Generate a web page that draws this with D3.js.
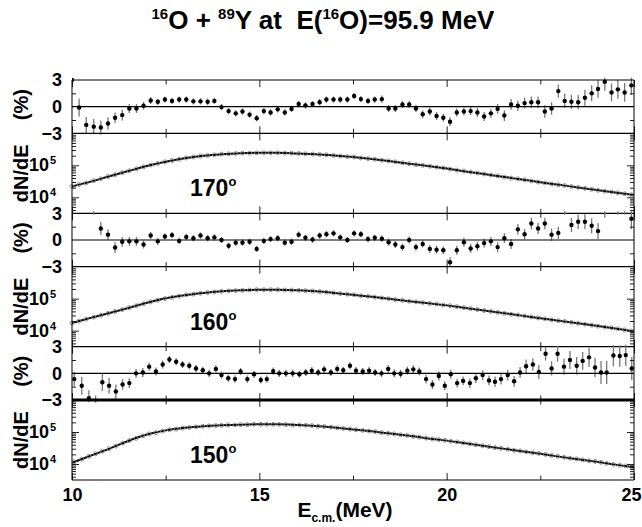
<!DOCTYPE html>
<html>
<head>
<meta charset="utf-8">
<script src="https://cdn.jsdelivr.net/npm/d3@7"></script>
<style>
  body { margin: 0; background: #fff; }
  svg { display: block; }
  text { white-space: pre; }
</style>
</head>
<body>
<svg id="chart" width="642" height="527"></svg>
<script>
/*
 * 16O + 89Y spectra (170, 160, 150 deg) with ratio panels
 */

// energy grid of the 170 / 160 deg spectra (MeV)
const energies = [
  10.00, 10.19, 10.38, 10.58, 10.77, 10.96, 11.15, 11.34, 11.53, 11.72,
  11.91, 12.10, 12.29, 12.48, 12.67, 12.86, 13.05, 13.24, 13.43, 13.62,
  13.80, 13.99, 14.18, 14.37, 14.55, 14.74, 14.93, 15.12, 15.30, 15.49,
  15.68, 15.86, 16.05, 16.23, 16.42, 16.61, 16.79, 16.98, 17.16, 17.35,
  17.53, 17.71, 17.90, 18.08, 18.27, 18.45, 18.63, 18.82, 19.00, 19.18,
  19.36, 19.55, 19.73, 19.91, 20.09, 20.27, 20.46, 20.64, 20.82, 21.00,
  21.18, 21.36, 21.54, 21.72, 21.90, 22.08, 22.26, 22.44, 22.62, 22.80,
  22.98, 23.15, 23.33, 23.51, 23.69, 23.87, 24.04, 24.22, 24.40, 24.57,
  24.75, 24.93
];

// energy grid of the 150 deg spectrum (MeV)
const energies150 = [
  10.06, 10.26, 10.45, 10.63, 10.81, 10.99, 11.17, 11.35, 11.53, 11.71,
  11.89, 12.06, 12.24, 12.42, 12.60, 12.78, 12.95, 13.13, 13.31, 13.49,
  13.66, 13.84, 13.99, 14.17, 14.35, 14.50, 14.68, 14.86, 15.04, 15.20,
  15.37, 15.53, 15.71, 15.89, 16.07, 16.24, 16.40, 16.57, 16.73, 16.91,
  17.08, 17.24, 17.42, 17.58, 17.76, 17.93, 18.09, 18.26, 18.44, 18.60,
  18.77, 18.95, 19.11, 19.27, 19.45, 19.62, 19.79, 19.95, 20.11, 20.28,
  20.44, 20.62, 20.78, 20.96, 21.13, 21.29, 21.45, 21.63, 21.80, 21.96,
  22.12, 22.30, 22.46, 22.64, 22.80, 22.96, 23.13, 23.29, 23.47, 23.63,
  23.80, 23.96, 24.12, 24.27, 24.45, 24.62, 24.78, 24.94
];

// energies of the fitted curves (MeV)
const fitEnergies = [
  10, 10.5, 11, 11.5, 12, 12.5, 13, 13.5, 14, 14.5, 15, 15.5, 16, 16.5, 17,
  17.5, 18, 18.5, 19, 19.5, 20, 20.5, 21, 21.5, 22, 22.5, 23, 23.5, 24, 24.5, 25
];

// log10(dN/dE) of the fitted curves
const lgFit170 = [4.34, 4.49, 4.66, 4.82, 4.98, 5.11, 5.22, 5.30, 5.35, 5.38, 5.39,
  5.39, 5.37, 5.35, 5.31, 5.26, 5.20, 5.13, 5.05, 4.98, 4.90, 4.81, 4.73, 4.64,
  4.56, 4.47, 4.39, 4.31, 4.23, 4.15, 4.07];
const lgFit160 = [4.24, 4.40, 4.55, 4.71, 4.87, 5.01, 5.11, 5.18, 5.23, 5.26, 5.28,
  5.28, 5.26, 5.23, 5.18, 5.12, 5.06, 4.99, 4.92, 4.86, 4.79, 4.71, 4.63, 4.55,
  4.47, 4.39, 4.31, 4.23, 4.15, 4.07, 3.98];
const lgFit150 = [4.04, 4.26, 4.48, 4.72, 4.92, 5.05, 5.13, 5.18, 5.21, 5.23, 5.24,
  5.24, 5.22, 5.19, 5.14, 5.08, 5.02, 4.95, 4.88, 4.80, 4.73, 4.65, 4.56, 4.48,
  4.40, 4.32, 4.23, 4.15, 4.07, 3.98, 3.90];

// log10(dN/dE) of the measured spectra
const lgSpec170 = [
  4.34, 4.40, 4.45, 4.52, 4.58, 4.65, 4.71, 4.77, 4.83, 4.89,
  4.95, 5.01, 5.06, 5.11, 5.15, 5.19, 5.23, 5.26, 5.29, 5.31,
  5.33, 5.35, 5.36, 5.37, 5.38, 5.38, 5.39, 5.39, 5.39, 5.39,
  5.38, 5.38, 5.37, 5.36, 5.35, 5.34, 5.33, 5.31, 5.29, 5.27,
  5.26, 5.23, 5.21, 5.19, 5.16, 5.14, 5.11, 5.08, 5.05, 5.02,
  5.00, 4.97, 4.94, 4.92, 4.88, 4.85, 4.82, 4.79, 4.76, 4.73,
  4.70, 4.67, 4.63, 4.60, 4.58, 4.55, 4.51, 4.48, 4.45, 4.42,
  4.39, 4.37, 4.34, 4.31, 4.28, 4.25, 4.22, 4.19, 4.17, 4.14,
  4.11, 4.08
];
const lgSpec160 = [
  4.24, 4.30, 4.36, 4.42, 4.48, 4.54, 4.60, 4.66, 4.72, 4.78,
  4.84, 4.90, 4.95, 5.00, 5.04, 5.08, 5.12, 5.14, 5.17, 5.19,
  5.21, 5.23, 5.24, 5.25, 5.26, 5.27, 5.28, 5.28, 5.28, 5.28,
  5.27, 5.27, 5.26, 5.25, 5.24, 5.22, 5.20, 5.18, 5.16, 5.14,
  5.12, 5.09, 5.07, 5.05, 5.02, 5.00, 4.97, 4.95, 4.92, 4.90,
  4.88, 4.85, 4.83, 4.80, 4.78, 4.75, 4.72, 4.69, 4.66, 4.63,
  4.60, 4.57, 4.54, 4.51, 4.49, 4.46, 4.43, 4.40, 4.37, 4.34,
  4.31, 4.29, 4.26, 4.23, 4.20, 4.17, 4.14, 4.11, 4.09, 4.06,
  4.02, 3.99
];
const lgSpec150 = [
  4.07, 4.15, 4.24, 4.32, 4.40, 4.48, 4.56, 4.65, 4.73, 4.80,
  4.88, 4.94, 4.98, 5.03, 5.07, 5.09, 5.12, 5.14, 5.16, 5.18,
  5.19, 5.20, 5.21, 5.22, 5.22, 5.23, 5.23, 5.24, 5.24, 5.24,
  5.24, 5.24, 5.23, 5.22, 5.22, 5.21, 5.20, 5.18, 5.17, 5.15,
  5.13, 5.11, 5.09, 5.07, 5.05, 5.03, 5.01, 4.98, 4.96, 4.94,
  4.91, 4.89, 4.86, 4.84, 4.81, 4.78, 4.76, 4.74, 4.71, 4.69,
  4.66, 4.63, 4.60, 4.57, 4.54, 4.51, 4.49, 4.46, 4.43, 4.41,
  4.38, 4.35, 4.33, 4.30, 4.27, 4.24, 4.21, 4.18, 4.16, 4.13,
  4.10, 4.08, 4.05, 4.02, 3.99, 3.96, 3.94, 3.91
];

// (data - fit) / fit in %, with errors
const ratio170 = [
  3.0, -0.1, -2.05, -2.25, -2.35, -1.9, -1.25, -0.95, -0.2, -0.2,
  0.1, 0.7, 0.55, 0.8, 0.65, 0.8, 0.8, 0.6, 0.6, 0.55,
  0.65, -0.05, -0.5, -0.75, -0.55, -0.9, -1.3, -0.5, -0.65, -0.3,
  -0.65, -0.25, 0.3, 0.15, 0.3, 0.5, 0.8, 0.8, 0.8, 0.8,
  1.2, 0.85, 0.65, 0.8, 0.85, -0.2, -0.2, 0.25, 0.25, -0.2,
  -0.85, -0.55, -1.05, -1.25, -1.7, -0.65, -0.55, -0.5, -0.65, -1.1,
  -0.75, -0.25, -1.0, 0.25, 0.1, 0.4, 0.5, 0.5, -0.55, -0.2,
  1.75, 0.65, 0.55, 0.5, 1.0, 1.5, 2.0, 2.8, 1.6, 1.95,
  1.6, 2.4
];
const err170 = [
  0.3, 1.0, 0.9, 0.85, 0.8, 0.7, 0.6, 0.6, 0.5, 0.5,
  0.45, 0.4, 0.35, 0.35, 0.35, 0.35, 0.35, 0.35, 0.35, 0.35,
  0.35, 0.35, 0.35, 0.35, 0.35, 0.35, 0.35, 0.35, 0.35, 0.35,
  0.35, 0.35, 0.35, 0.35, 0.35, 0.35, 0.35, 0.35, 0.35, 0.35,
  0.35, 0.35, 0.35, 0.35, 0.4, 0.4, 0.4, 0.4, 0.4, 0.4,
  0.45, 0.45, 0.45, 0.45, 0.5, 0.45, 0.45, 0.45, 0.5, 0.5,
  0.5, 0.55, 0.6, 0.6, 0.6, 0.6, 0.65, 0.65, 0.7, 0.7,
  0.75, 0.8, 0.8, 0.8, 0.9, 0.9, 1.0, 1.0, 1.0, 1.05,
  1.05, 1.1
];
const ratio160 = [
  null, null, null, 3.7, 1.3, 0.6, -0.85, -0.2, -0.15, -0.15,
  -0.5, 0.5, -0.15, 0.4, 0.55, -0.1, 0.35, 0.2, 0.5, 0.2,
  0.3, 0.0, -0.65, -0.3, -0.3, -0.2, -1.0, -0.1, 0.1, 0.2,
  -0.3, -0.2, 0.6, 0.25, 0.05, 0.5, 0.65, 0.75, 0.3, 0.0,
  0.75, 0.65, 0.1, 0.25, 0.15, -0.25, -0.5, -0.8, 0.0, -0.8,
  -0.45, -1.0, -1.1, -1.15, -2.5, -1.15, -0.25, -0.95, -0.7, -0.35,
  -0.15, -0.8, 0.2, -0.45, 1.2, 0.65, 1.85, 1.3, 1.85, 0.6,
  0.8, 3.8, 1.7, 2.05, 2.05, 1.6, 1.0, 3.7, null, 3.7,
  3.7, 2.4
];
const err160 = [
  null, null, null, 0.85, 0.75, 0.6, 0.6, 0.55, 0.5, 0.5,
  0.45, 0.4, 0.4, 0.35, 0.35, 0.35, 0.35, 0.35, 0.35, 0.35,
  0.35, 0.35, 0.35, 0.35, 0.35, 0.35, 0.35, 0.35, 0.35, 0.35,
  0.35, 0.35, 0.35, 0.35, 0.35, 0.35, 0.35, 0.35, 0.35, 0.35,
  0.35, 0.35, 0.35, 0.35, 0.35, 0.4, 0.4, 0.4, 0.4, 0.4,
  0.4, 0.45, 0.45, 0.45, 0.55, 0.5, 0.5, 0.5, 0.5, 0.5,
  0.5, 0.55, 0.55, 0.55, 0.6, 0.6, 0.65, 0.65, 0.65, 0.7,
  0.7, 0.95, 0.8, 0.8, 0.85, 0.85, 0.9, 1.2, null, 0.85,
  0.85, 1.2
];
const ratio150 = [
  -0.65, -1.4, -2.8, -3.5, -1.0, -1.4, -2.05, -1.25, -1.1, 0.0,
  0.1, 0.75, 0.2, 1.0, 1.55, 1.3, 1.0, 0.85, 0.55, 0.35,
  0.0, 0.5, -0.2, -0.55, -0.65, 0.2, -0.65, -0.1, -0.75, -0.65,
  0.25, 0.0, 0.0, 0.0, -0.1, 0.1, 0.3, 0.1, 0.45, 0.1,
  0.5, 0.35, 0.85, 0.3, 0.2, 0.3, 0.1, 0.0, 0.5, 0.0,
  -0.05, 0.3, 0.45, 0.2, -0.65, -1.25, -0.3, -1.4, -0.1, -1.1,
  -0.85, -1.1, -0.55, -0.2, -0.8, -0.95, -0.65, -0.2, -0.9, 0.1,
  0.8, 1.0, 0.15, 2.2, 0.55, 2.2, 0.75, 1.5, 0.85, 1.4,
  1.8, 0.65, 0.1, 0.1, 2.0, 1.95, 2.05, 0.55
];
const err150 = [
  0.8, 1.0, 0.9, 1.0, 1.0, 0.9, 0.8, 0.6, 0.55, 0.5,
  0.5, 0.45, 0.45, 0.45, 0.4, 0.4, 0.4, 0.4, 0.4, 0.4,
  0.4, 0.4, 0.4, 0.4, 0.4, 0.4, 0.4, 0.4, 0.4, 0.4,
  0.4, 0.4, 0.4, 0.4, 0.4, 0.4, 0.4, 0.4, 0.4, 0.4,
  0.4, 0.4, 0.4, 0.4, 0.4, 0.4, 0.4, 0.4, 0.45, 0.45,
  0.45, 0.45, 0.45, 0.45, 0.5, 0.5, 0.5, 0.5, 0.5, 0.5,
  0.5, 0.55, 0.55, 0.55, 0.55, 0.6, 0.6, 0.6, 0.6, 0.6,
  0.75, 0.7, 0.8, 0.75, 0.8, 0.9, 0.9, 1.0, 1.0, 1.0,
  1.1, 1.1, 1.3, 1.3, 1.2, 1.2, 1.2, 1.3
];

// tick values / labels
const angles = ["170", "160", "150"];
const ratioTicks = [-3, 0, 3];
const ratioMinorTicks = [-1.5, 1.5];
const xLabelTicks = [10, 15, 20, 25];
const xMinorTicks = [12.5, 17.5, 22.5];

// panels built from the arrays above
const panels = [
  {angle: angles[0], e: energies, ratio: ratio170, err: err170, spec: lgSpec170, fit: lgFit170},
  {angle: angles[1], e: energies, ratio: ratio160, err: err160, spec: lgSpec160, fit: lgFit160},
  {angle: angles[2], e: energies150, ratio: ratio150, err: err150, spec: lgSpec150, fit: lgFit150}
];

const FONT = '"Liberation Sans", Arial, sans-serif';
const W = 642, H = 527;
const margin = {top: 80, right: 8, bottom: 47, left: 72};
const ratioH = 53.33, specH = 80;

const svg = d3.select("#chart");

const x = d3.scaleLinear()
  .domain([10, 25])
  .range([margin.left, W - margin.right]);

/* text with superscripts / subscripts : parts = [[str, shift], ...] */
function richText(sel, parts, size, smallSize) {
  let prev = 0;
  parts.forEach(([str, shift]) => {
    sel.append("tspan")
      .attr("font-size", shift === 0 ? size : smallSize)
      .attr("dy", shift - prev)
      .text(str);
    prev = shift;
  });
  return sel;
}

function styleAxis(g) {
  g.select(".domain").remove();
  g.attr("color", "#222");
  g.selectAll("line").attr("stroke-width", 1);
}

/* x ticks : inward from a horizontal edge */
function xTicks(yPos, down, values, len) {
  const axis = (down ? d3.axisTop(x) : d3.axisBottom(x))
    .tickValues(values).tickSize(-len).tickFormat("");
  svg.append("g")
    .attr("transform", `translate(0,${yPos})`)
    .call(axis)
    .call(styleAxis);
}

/* y ticks on both sides */
function yTicks(scale, values, len) {
  svg.append("g")
    .attr("transform", `translate(${margin.left},0)`)
    .call(d3.axisLeft(scale).tickValues(values).tickSize(-len).tickFormat(""))
    .call(styleAxis);
  svg.append("g")
    .attr("transform", `translate(${W - margin.right},0)`)
    .call(d3.axisRight(scale).tickValues(values).tickSize(-len).tickFormat(""))
    .call(styleAxis);
}

function hLine(y, width) {
  svg.append("line")
    .attr("x1", margin.left).attr("x2", W - margin.right)
    .attr("y1", y).attr("y2", y)
    .attr("stroke", "#000").attr("stroke-width", width);
}

// title
richText(
  svg.append("text")
    .attr("x", 323).attr("y", 29)
    .attr("text-anchor", "middle")
    .attr("font-family", FONT).attr("font-weight", "bold"),
  [["16", -10], ["O + ", 0], ["89", -10], ["Y at  E(", 0], ["16", -10], ["O)=95.9 MeV", 0]],
  26, 15
);

panels.forEach((p, k) => {

  const rTop = margin.top + k * (ratioH + specH);
  const rBot = rTop + ratioH;
  const sBot = rBot + specH;

  const yR = d3.scaleLinear().domain([-3, 3]).range([rBot, rTop]);
  const yS = d3.scaleLog().domain([Math.pow(10, 3.5), 1e6]).range([sBot, rBot]);

  // ---- ratio panel ----
  const clipId = `clip${k}`;
  svg.append("clipPath").attr("id", clipId)
    .append("rect")
    .attr("x", margin.left).attr("y", rTop - 2.2)
    .attr("width", W - margin.left - margin.right)
    .attr("height", ratioH + 4.4);

  const pts = p.e.map((e, i) => ({e: e, v: p.ratio[i], err: p.err[i]}))
    .filter(d => d.v !== null);

  const gR = svg.append("g").attr("clip-path", `url(#${clipId})`);

  gR.selectAll("line.err").data(pts).join("line")
    .attr("class", "err")
    .attr("x1", d => x(d.e)).attr("x2", d => x(d.e))
    .attr("y1", d => yR(d.v - d.err)).attr("y2", d => yR(d.v + d.err))
    .attr("stroke", "#777").attr("stroke-width", 1.3);

  gR.selectAll("circle").data(pts).join("circle")
    .attr("cx", d => x(d.e)).attr("cy", d => yR(d.v))
    .attr("r", 2.2).attr("fill", "#000");

  hLine(yR(0), 1.2);

  // ratio tick labels
  svg.append("g")
    .attr("transform", `translate(${margin.left},0)`)
    .call(d3.axisLeft(yR).tickValues(ratioTicks).tickSize(0).tickPadding(10)
      .tickFormat(d3.format("d")))
    .call(g => g.select(".domain").remove())
    .attr("font-family", FONT).attr("font-size", 18).attr("font-weight", "bold");

  yTicks(yR, ratioMinorTicks, 4);

  // ---- spectrum panel ----
  const fitLine = d3.line()
    .x((d, i) => x(fitEnergies[i]))
    .y(d => yS(Math.pow(10, d)))
    .curve(d3.curveMonotoneX);

  svg.append("path")
    .datum(p.fit)
    .attr("d", fitLine)
    .attr("fill", "none")
    .attr("stroke", "#000")
    .attr("stroke-width", 2);

  svg.append("g").selectAll("circle")
    .data(p.spec.map((v, i) => ({e: p.e[i], v: v})))
    .join("circle")
    .attr("cx", d => x(d.e)).attr("cy", d => yS(Math.pow(10, d.v)))
    .attr("r", 2.0)
    .attr("fill", "none").attr("stroke", "#8a8a8a").attr("stroke-width", 0.9);

  const logTicks = yS.ticks();
  const majors = logTicks.filter(t => Math.abs(Math.log10(t) % 1) < 1e-9 && t < 1e6);
  const minors = logTicks.filter(t => Math.abs(Math.log10(t) % 1) > 1e-9);
  yTicks(yS, majors, 7);
  yTicks(yS, minors, 4);

  // 10^n labels
  majors.forEach(t => {
    richText(
      svg.append("text")
        .attr("x", 49).attr("y", yS(t) + 6)
        .attr("text-anchor", "end")
        .attr("font-family", FONT).attr("font-weight", "bold"),
      [["10", 0]], 18, 11
    );
    richText(
      svg.append("text")
        .attr("x", 50).attr("y", yS(t) - 1)
        .attr("font-family", FONT).attr("font-weight", "bold"),
      [[String(Math.round(Math.log10(t))), 0]], 11, 11
    );
  });

  // angle label
  richText(
    svg.append("text")
      .attr("x", x(13.15)).attr("y", rBot + 63)
      .attr("font-family", FONT).attr("font-weight", "bold"),
    [[p.angle, 0], ["o", -10]], 23, 13
  );

  // axis titles
  svg.append("text")
    .attr("transform", `translate(28,${rTop + ratioH / 2 - 2}) rotate(-90)`)
    .attr("text-anchor", "middle")
    .attr("font-family", FONT).attr("font-weight", "bold").attr("font-size", 20)
    .text("(%)");
  svg.append("text")
    .attr("transform", `translate(28,${rBot + specH / 2}) rotate(-90)`)
    .attr("text-anchor", "middle")
    .attr("font-family", FONT).attr("font-weight", "bold").attr("font-size", 20)
    .text("dN/dE");

  // x ticks, top and bottom of both panels
  [[rTop, true], [rBot, false], [rBot, true], [sBot, false]].forEach(([yy, down]) => {
    xTicks(yy, down, xLabelTicks, 7);
    xTicks(yy, down, xMinorTicks, 4.5);
  });

  // frame lines
  if (k === 0) hLine(rTop, 1.2);
  hLine(rBot, k === 2 ? 3 : 1.2);
  hLine(sBot, 1.2);
});

// vertical frame
[margin.left, W - margin.right].forEach(xx => {
  svg.append("line")
    .attr("x1", xx).attr("x2", xx)
    .attr("y1", margin.top).attr("y2", H - margin.bottom)
    .attr("stroke", "#000").attr("stroke-width", 1);
});

// x tick labels
svg.append("g")
  .attr("transform", `translate(0,${H - margin.bottom})`)
  .call(d3.axisBottom(x).tickValues(xLabelTicks).tickSize(0).tickPadding(8)
    .tickFormat(d3.format("d")))
  .call(g => g.select(".domain").remove())
  .attr("font-family", FONT).attr("font-size", 18).attr("font-weight", "bold")
  .call(g => g.selectAll("text").filter(d => d === 25).attr("dx", -3));

// x axis title
richText(
  svg.append("text")
    .attr("x", 345).attr("y", 517)
    .attr("text-anchor", "middle")
    .attr("font-family", FONT).attr("font-weight", "bold"),
  [["E", 0], ["c.m.", 5], ["(MeV)", 0]], 21, 12
);
</script>
</body>
</html>
